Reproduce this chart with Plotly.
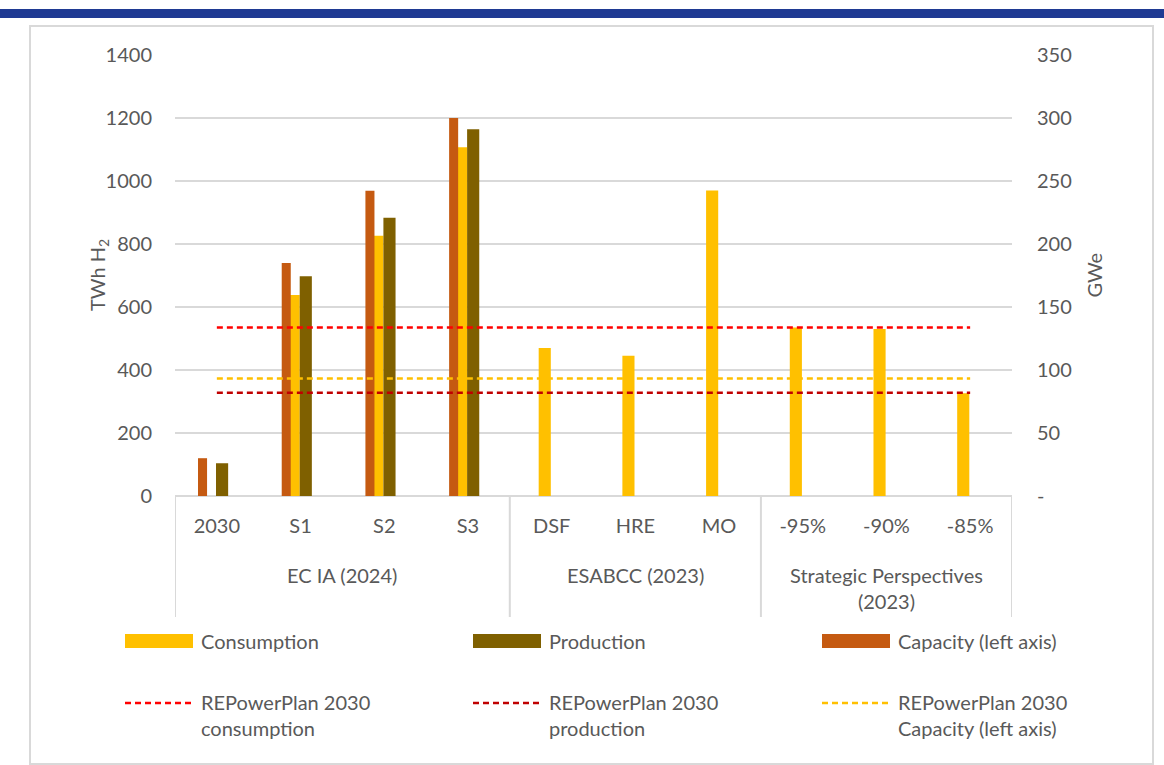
import plotly.graph_objects as go

# ---- data -------------------------------------------------------------
categories = ["2030", "S1", "S2", "S3", "DSF", "HRE", "MO", "-95%", "-90%", "-85%"]
groups = ["EC IA (2024)", "ESABCC (2023)", "Strategic Perspectives<br>(2023)"]
group_sizes = [4, 3, 3]

consumption = [None, 638, 826, 1107, 470, 445, 970, 535, 530, 326]
production = [104, 698, 883, 1164, None, None, None, None, None, None]
capacity = [120, 740, 969, 1200, None, None, None, None, None, None]

repower_consumption = 535
repower_production = 328
repower_capacity = 373

left_ticks = [0, 200, 400, 600, 800, 1000, 1200, 1400]
right_ticks = [0, 50, 100, 150, 200, 250, 300, 350]
right_ticktext = ["-", "50", "100", "150", "200", "250", "300", "350"]

# ---- style ------------------------------------------------------------
FONT = "Lato"
TXT = "#595959"
GRID = "#D9D9D9"
C_CONS = "#FFC000"
C_PROD = "#7F6000"
C_CAP = "#C55A11"
C_L_CONS = "#FF0000"
C_L_PROD = "#C00000"
C_L_CAP = "#FFC000"

W, H = 1164, 765
L, R, T, B = 175, 152, 55, 269
PW, PH = W - L - R, H - T - B


def px(xp):
    return (xp - L) / PW


def py(yp):
    return (H - B - yp) / PH


fig = go.Figure()

# bars (capacity last so it sits on top of the consumption bar)
fig.add_trace(go.Bar(x=categories, y=consumption, name="Consumption",
                     marker=dict(color=C_CONS, line=dict(width=0)),
                     offset=-0.155, width=0.145))
fig.add_trace(go.Bar(x=categories, y=production, name="Production",
                     marker=dict(color=C_PROD, line=dict(width=0)),
                     offset=-0.01, width=0.145))
fig.add_trace(go.Bar(x=categories, y=capacity, name="Capacity (left axis)",
                     marker=dict(color=C_CAP, line=dict(width=0)),
                     offset=-0.225, width=0.108))

# REPowerEU reference levels, spanning first to last category
ends = [categories[0], categories[-1]]
for val, col, nm in [
    (repower_consumption, C_L_CONS, "REPowerPlan 2030 consumption"),
    (repower_capacity, C_L_CAP, "REPowerPlan 2030 Capacity (left axis)"),
    (repower_production, C_L_PROD, "REPowerPlan 2030 production"),
]:
    fig.add_trace(go.Scatter(x=ends, y=[val, val], mode="lines", name=nm,
                             line=dict(color=col, width=2.5, dash="6px,4px")))

# secondary (GWe) scale shares the plot area
fig.add_trace(go.Scatter(x=ends, y=[None, None], yaxis="y2", mode="lines",
                         hoverinfo="skip", showlegend=False))

shapes = []
annotations = []

# top band and outer frame
shapes.append(dict(type="rect", xref="paper", yref="paper",
                   x0=px(0), x1=px(W), y0=py(18), y1=py(9),
                   fillcolor="#1F3A93", line=dict(width=0), layer="below"))
shapes.append(dict(type="rect", xref="paper", yref="paper",
                   x0=px(30), x1=px(1153), y0=py(764), y1=py(26),
                   fillcolor="rgba(0,0,0,0)", line=dict(color=GRID, width=2), layer="below"))

# category table dividers
pos = -0.5
bounds = [pos]
for n in group_sizes:
    pos += n
    bounds.append(pos)
for b in bounds:
    shapes.append(dict(type="line", xref="x", yref="paper", x0=b, x1=b,
                       y0=py(617), y1=0, line=dict(color=GRID, width=2)))

# group labels
for i, g in enumerate(groups):
    c = (bounds[i] + bounds[i + 1]) / 2
    annotations.append(dict(x=c, y=py(561), xref="x", yref="paper", text=g,
                            showarrow=False, xanchor="center", yanchor="top",
                            font=dict(family=FONT, size=20, color=TXT)))

# axis titles
annotations.append(dict(x=px(83), y=0.5, xref="paper", yref="paper",
                        text="TWh H<sub>2</sub>", textangle=-90, showarrow=False,
                        font=dict(family=FONT, size=20, color=TXT)))
annotations.append(dict(x=px(1107), y=0.5, xref="paper", yref="paper",
                        text="GWe", textangle=-90, showarrow=False,
                        font=dict(family=FONT, size=20, color=TXT)))

# legend
legend_items = [
    ("bar", C_CONS, "Consumption", 125, 641),
    ("bar", C_PROD, "Production", 473, 641),
    ("bar", C_CAP, "Capacity (left axis)", 822, 641),
    ("line", C_L_CONS, "REPowerPlan 2030<br>consumption", 125, 703),
    ("line", C_L_PROD, "REPowerPlan 2030<br>production", 473, 703),
    ("line", C_L_CAP, "REPowerPlan 2030<br>Capacity (left axis)", 822, 703),
]
for kind, col, label, x0, yc in legend_items:
    if kind == "bar":
        shapes.append(dict(type="rect", xref="paper", yref="paper",
                           x0=px(x0), x1=px(x0 + 68), y0=py(yc + 7), y1=py(yc - 7),
                           fillcolor=col, line=dict(width=0)))
        annotations.append(dict(x=px(x0 + 74), y=py(yc), xref="paper", yref="paper",
                                text=label, showarrow=False, xanchor="left",
                                yanchor="middle",
                                font=dict(family=FONT, size=20, color=TXT)))
    else:
        shapes.append(dict(type="line", xref="paper", yref="paper",
                           x0=px(x0), x1=px(x0 + 68), y0=py(yc), y1=py(yc),
                           line=dict(color=col, width=2.5, dash="6px,4px")))
        annotations.append(dict(x=px(x0 + 74), y=py(yc - 15), xref="paper", yref="paper",
                                text=label, showarrow=False, xanchor="left",
                                yanchor="top", align="left",
                                font=dict(family=FONT, size=20, color=TXT)))

fig.update_layout(
    width=W, height=H,
    margin=dict(l=L, r=R, t=T, b=B, pad=0),
    paper_bgcolor="white", plot_bgcolor="white",
    barmode="overlay",
    showlegend=False,
    font=dict(family=FONT, size=20, color=TXT),
    xaxis=dict(type="category", categoryorder="array", categoryarray=categories,
               range=[-0.5, len(categories) - 0.5], showgrid=False,
               showline=False, zeroline=False, ticks="",
               tickfont=dict(family=FONT, size=20, color=TXT),
               ticklabelstandoff=16),
    yaxis=dict(range=[0, 1400], tickvals=left_ticks, showgrid=True,
               gridcolor=GRID, gridwidth=2, zeroline=True, zerolinecolor=GRID,
               zerolinewidth=2, showline=False, ticks="",
               ticklabelstandoff=22,
               tickfont=dict(family=FONT, size=20, color=TXT)),
    yaxis2=dict(range=[0, 350], overlaying="y", side="right",
                tickvals=right_ticks, ticktext=right_ticktext, showgrid=False,
                zeroline=False, showline=False, ticks="", ticklabelstandoff=24,
                tickfont=dict(family=FONT, size=20, color=TXT)),
    shapes=shapes,
    annotations=annotations,
)

fig.write_html("out.html")
